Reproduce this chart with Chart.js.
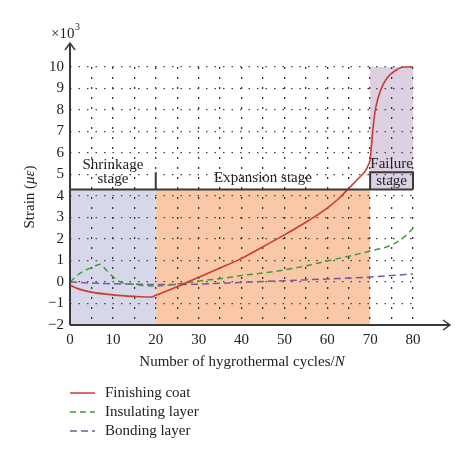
<!DOCTYPE html>
<html>
<head>
<meta charset="utf-8">
<script src="https://cdn.jsdelivr.net/npm/chart.js@4.4.1/dist/chart.umd.min.js"></script>
<style>
  html, body { margin: 0; padding: 0; background: #fff; }
</style>
</head>
<body>
<canvas id="strainChart" width="474" height="463"></canvas>
<script>
// data (strain in units of 10^3 microstrain)
const finishX = [0, 2, 5, 10, 15, 19, 20, 25, 28, 30, 35, 40, 45, 50, 55, 60, 62.5, 65, 67.2, 69, 69.6, 70, 70.3, 70.7, 71.3, 72.6, 74, 76, 78, 80];
const finishY = [-0.15, -0.32, -0.47, -0.6, -0.67, -0.7, -0.62, -0.22, 0.05, 0.22, 0.65, 1.1, 1.64, 2.19, 2.78, 3.44, 3.85, 4.35, 4.8, 5.2, 5.45, 5.7, 6.3, 7.2, 8.1, 9.0, 9.5, 9.85, 10, 10];

const insulX = [0, 2.3, 5.4, 7, 8.5, 10, 11.7, 14.8, 19.4, 25, 30, 35, 40, 45, 50, 55, 60, 65, 70, 75, 78, 80];
const insulY = [0, 0.4, 0.7, 0.82, 0.55, 0.25, 0, -0.1, -0.19, -0.1, 0.05, 0.15, 0.3, 0.42, 0.56, 0.75, 0.98, 1.2, 1.44, 1.72, 2.1, 2.5];

const bondX = [0, 5, 10, 15, 20, 25, 30, 35, 40, 50, 60, 70, 75, 80];
const bondY = [0, -0.05, -0.08, -0.1, -0.12, -0.12, -0.1, -0.06, -0.02, 0.06, 0.14, 0.23, 0.3, 0.38];

const seriesNames = ["Finishing coat", "Insulating layer", "Bonding layer"];
const stageBounds = [0, 20, 70, 80];
const stageLabels = [["Shrinkage", "stage"], ["Expansion stage"], ["Failure", "stage"]];
const stageLineY = 4.3;
const stageTickY = 5.1;
const xTickLabels = ["0", "10", "20", "30", "40", "50", "60", "70", "80"];

const serif = "'Liberation Serif', 'DejaVu Serif', serif";
const ink = "#3a3a3a";

function toPoints(xs, ys) {
  return xs.map((x, i) => ({ x: x, y: ys[i] }));
}

function drawParts(ctx, parts, x, y) {
  // parts: [text, italic]; centred on x
  let total = 0;
  parts.forEach(p => {
    ctx.font = (p[1] ? "italic " : "") + "15px " + serif;
    total += ctx.measureText(p[0]).width;
  });
  let cx = x - total / 2;
  ctx.textAlign = "left";
  parts.forEach(p => {
    ctx.font = (p[1] ? "italic " : "") + "15px " + serif;
    ctx.fillText(p[0], cx, y);
    cx += ctx.measureText(p[0]).width;
  });
}

const decorPlugin = {
  id: "decor",
  beforeDraw(chart) {
    const { ctx, chartArea: a, scales: { x, y } } = chart;
    ctx.save();
    ctx.fillStyle = "#fff";
    ctx.fillRect(0, 0, chart.width, chart.height);
    const top = y.getPixelForValue(stageLineY);
    const bottom = a.bottom;
    ctx.fillStyle = "#d6d8e9";
    ctx.fillRect(x.getPixelForValue(stageBounds[0]), top, x.getPixelForValue(stageBounds[1]) - x.getPixelForValue(stageBounds[0]), bottom - top);
    ctx.fillStyle = "#f9c8a7";
    ctx.fillRect(x.getPixelForValue(stageBounds[1]), top, x.getPixelForValue(stageBounds[2]) - x.getPixelForValue(stageBounds[1]), bottom - top);
    ctx.fillStyle = "#ddd0e3";
    ctx.fillRect(x.getPixelForValue(stageBounds[2]), a.top, x.getPixelForValue(stageBounds[3]) - x.getPixelForValue(stageBounds[2]), top - a.top);
    ctx.restore();
  },
  afterDraw(chart) {
    const { ctx, chartArea: a, scales: { x, y } } = chart;
    ctx.save();
    ctx.strokeStyle = ink;
    ctx.fillStyle = "#222";

    // stage markers
    const ly = y.getPixelForValue(stageLineY);
    const ty = y.getPixelForValue(stageTickY);
    ctx.lineWidth = 2;
    ctx.beginPath();
    ctx.moveTo(x.getPixelForValue(stageBounds[0]), ly);
    ctx.lineTo(x.getPixelForValue(stageBounds[3]), ly);
    ctx.moveTo(x.getPixelForValue(stageBounds[1]), ly);
    ctx.lineTo(x.getPixelForValue(stageBounds[1]), ty);
    ctx.moveTo(x.getPixelForValue(stageBounds[2]), ly);
    ctx.lineTo(x.getPixelForValue(stageBounds[2]), ty);
    ctx.lineTo(x.getPixelForValue(stageBounds[3]), ty);
    ctx.lineTo(x.getPixelForValue(stageBounds[3]), ly);
    ctx.stroke();

    ctx.font = "15px " + serif;
    ctx.textAlign = "center";
    ctx.textBaseline = "middle";
    const sx0 = (x.getPixelForValue(stageBounds[0]) + x.getPixelForValue(stageBounds[1])) / 2;
    ctx.fillText(stageLabels[0][0], sx0, 165);
    ctx.fillText(stageLabels[0][1], sx0, 179);
    const sx1 = (x.getPixelForValue(stageBounds[1]) + x.getPixelForValue(stageBounds[2])) / 2;
    ctx.fillText(stageLabels[1][0], sx1, 178);
    const sx2 = (x.getPixelForValue(stageBounds[2]) + x.getPixelForValue(stageBounds[3])) / 2;
    ctx.fillText(stageLabels[2][0], sx2, 164);
    ctx.fillText(stageLabels[2][1], sx2, 181);

    // axes with arrows
    ctx.lineWidth = 2;
    ctx.beginPath();
    ctx.moveTo(a.left, a.bottom);
    ctx.lineTo(a.left, 43);
    ctx.moveTo(a.left, a.bottom);
    ctx.lineTo(450, a.bottom);
    ctx.stroke();
    ctx.lineWidth = 1.5;
    ctx.beginPath();
    ctx.moveTo(a.left - 5, 50);
    ctx.lineTo(a.left, 43);
    ctx.lineTo(a.left + 5, 50);
    ctx.moveTo(443, a.bottom - 5);
    ctx.lineTo(450, a.bottom);
    ctx.lineTo(443, a.bottom + 5);
    ctx.stroke();

    // multiplier
    ctx.textAlign = "left";
    ctx.textBaseline = "alphabetic";
    ctx.font = "15px " + serif;
    ctx.fillText("\u00d710", 51, 38);
    const w = ctx.measureText("\u00d710").width;
    ctx.font = "10px " + serif;
    ctx.fillText("3", 51 + w + 0.5, 30);

    // axis titles
    ctx.textBaseline = "middle";
    drawParts(ctx, [["Number of hygrothermal cycles/", false], ["N", true]], 242, 362);
    ctx.save();
    ctx.translate(30, 197);
    ctx.rotate(-Math.PI / 2);
    drawParts(ctx, [["Strain (", false], ["\u03bc\u03b5", true], [")", false]], 0, 0);
    ctx.restore();

    // legend
    const rows = [393, 412, 431];
    chart.data.datasets.forEach((ds, i) => {
      ctx.strokeStyle = ds.borderColor;
      ctx.lineWidth = 1.5;
      ctx.setLineDash(ds.borderDash || []);
      ctx.beginPath();
      ctx.moveTo(70, rows[i]);
      ctx.lineTo(95, rows[i]);
      ctx.stroke();
      ctx.setLineDash([]);
      ctx.fillStyle = "#222";
      ctx.font = "15px " + serif;
      ctx.textAlign = "left";
      ctx.fillText(ds.label, 105, rows[i]);
    });
    ctx.restore();
  }
};

new Chart(document.getElementById("strainChart"), {
  type: "line",
  data: {
    datasets: [
      {
        label: seriesNames[0],
        data: toPoints(finishX, finishY),
        borderColor: "#cc3b33",
        borderWidth: 1.6,
        pointRadius: 0,
        cubicInterpolationMode: "monotone",
        clip: 6,
      },
      {
        label: seriesNames[1],
        data: toPoints(insulX, insulY),
        borderColor: "#3f9c3f",
        borderWidth: 1.5,
        borderDash: [6, 4],
        pointRadius: 0,
        cubicInterpolationMode: "monotone",
        clip: 6,
      },
      {
        label: seriesNames[2],
        data: toPoints(bondX, bondY),
        borderColor: "#7d55a3",
        borderWidth: 1.5,
        borderDash: [7, 4],
        pointRadius: 0,
        cubicInterpolationMode: "monotone",
        clip: 6,
      },
    ],
  },
  options: {
    responsive: false,
    animation: false,
    devicePixelRatio: 1,
    layout: { padding: { top: 67, right: 61, left: 0, bottom: 0 } },
    plugins: { legend: { display: false }, tooltip: { enabled: false } },
    scales: {
      x: {
        type: "linear",
        min: 0,
        max: 80,
        afterFit: (s) => { s.height = 138; },
        // border.dash is what dashes the grid lines in v4
        border: { display: false, dash: [2, 8] },
        grid: { color: "#333", lineWidth: 1.3, drawTicks: false },
        ticks: {
          stepSize: 5,
          padding: 6,
          color: "#222",
          font: { family: serif, size: 15 },
          maxRotation: 0,
          callback: (v) => (v % 10 === 0 ? xTickLabels[v / 10] : ""),
        },
      },
      y: {
        min: -2,
        max: 10,
        afterFit: (s) => { s.width = 70; },
        border: { display: false, dash: [1.5, 7] },
        grid: { color: "#444", lineWidth: 1.2, drawTicks: false },
        ticks: {
          stepSize: 1,
          padding: 6,
          color: "#222",
          font: { family: serif, size: 15 },
          callback: (v) => (v < 0 ? "\u2212" + Math.abs(v) : String(v)),
        },
      },
    },
  },
  plugins: [decorPlugin],
});
</script>
</body>
</html>
